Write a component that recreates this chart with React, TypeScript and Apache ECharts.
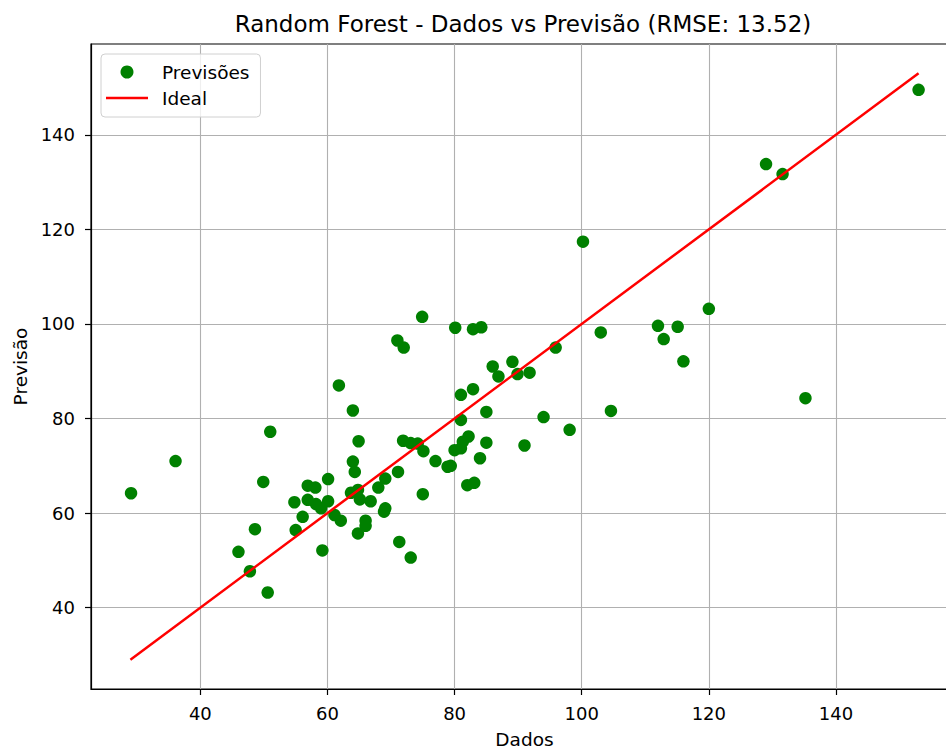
import React, { useEffect, useRef } from 'react';
import * as echarts from 'echarts';

const dados = [
  29.1, 36.1, 51.0, 49.9, 61.8, 60.1, 56.9, 58.1, 54.8, 56.9,
  58.2, 60.1, 59.0, 56.1, 55.0, 48.6, 46.0, 47.8, 50.6, 59.2,
  74.9, 80.1, 82.9, 84.2, 71.0, 72.0, 64.0, 86.0, 89.1, 86.9,
  89.9, 91.8, 81.0, 82.9, 85.0, 81.0, 91.0, 64.9, 71.9, 73.1,
  74.2, 75.1, 82.2, 81.3, 81.0, 80.0, 85.0, 84.0, 77.0, 78.9,
  79.4, 71.1, 64.0, 64.3, 69.1, 68.0, 82.0, 83.1, 75.0, 63.7,
  64.8, 65.1, 66.8, 61.1, 62.1, 69.1, 68.9, 66.0, 66.0, 64.8,
  71.3, 73.1, 100.2, 103.0, 112.0, 115.1, 112.9, 116.0, 95.9, 94.0,
  104.6, 98.1, 153.0, 129.0, 131.6, 120.0, 135.2
];
const previsao = [
  64.2, 71.0, 77.2, 66.6, 87.0, 67.2, 65.8, 65.4, 62.3, 62.8,
  61.9, 62.5, 61.0, 59.2, 56.4, 56.6, 51.8, 47.7, 43.2, 52.1,
  101.5, 99.2, 98.9, 99.3, 96.5, 95.0, 81.7, 91.0, 92.0, 88.9,
  89.4, 89.7, 85.0, 86.2, 81.4, 79.7, 74.3, 75.2, 75.3, 74.8,
  74.7, 73.1, 76.2, 75.1, 73.7, 73.3, 74.9, 71.6, 71.0, 69.8,
  70.0, 68.7, 70.9, 68.7, 67.3, 65.4, 65.9, 66.4, 64.0, 64.3,
  64.9, 62.9, 62.5, 59.6, 58.4, 61.0, 60.3, 58.4, 57.3, 55.7,
  53.9, 50.6, 117.4, 98.2, 99.6, 99.4, 96.8, 92.1, 95.0, 80.3,
  81.6, 77.6, 149.5, 133.8, 131.7, 103.2, 84.3
];
const idealRange = [29, 153];
const xTicks = [40, 60, 80, 100, 120, 140];
const yTicks = [40, 60, 80, 100, 120, 140];
const axisMin = 22.8;
const axisMax = 159.2;
const titleText = 'Random Forest - Dados vs Previsão (RMSE: 13.52)';
const xName = 'Dados';
const yName = 'Previsão';
const seriesNames = ['Previsões', 'Ideal'];

export default function App() {
  const ref = useRef<HTMLDivElement>(null);
  useEffect(() => {
    const chart = echarts.init(ref.current as HTMLDivElement, null, { renderer: 'svg' });
    const font = 'DejaVu Sans';
    const axisCommon = {
      type: 'value',
      min: axisMin,
      max: axisMax,
      splitNumber: 7,
      nameLocation: 'middle',
      nameTextStyle: { fontFamily: font, fontSize: 18.5, color: '#000' },
      axisLine: { show: true, onZero: false, lineStyle: { color: '#000', width: 1.2 } },
      axisTick: { show: true, length: 6, lineStyle: { color: '#000', width: 1.2 } },
      splitLine: { show: true, lineStyle: { color: '#b0b0b0', width: 1.1 } },
    };
    chart.setOption({
      animation: false,
      backgroundColor: '#fff',
      title: {
        text: titleText,
        left: 523,
        top: 12,
        textAlign: 'center',
        padding: 0,
        textStyle: { fontFamily: font, fontSize: 23, fontWeight: 'normal', color: '#000' },
      },
      legend: {
        orient: 'vertical',
        left: 101,
        top: 54,
        padding: [8, 11, 9, 5],
        itemWidth: 42,
        itemHeight: 13,
        itemGap: 6,
        backgroundColor: 'rgba(255,255,255,0.8)',
        borderColor: '#d0d0d0',
        borderWidth: 1,
        borderRadius: 4,
        textStyle: { fontFamily: font, fontSize: 18.5, color: '#000', lineHeight: 20, padding: [0, 0, 0, 9] },
        data: [
          { name: seriesNames[0], icon: 'circle' },
          {
            name: seriesNames[1],
            icon: 'path://M0,0 L42,0 L42,2.5 L0,2.5 Z',
            symbolKeepAspect: true,
            itemStyle: { color: '#ff0000' },
          },
        ],
      },
      grid: {
        left: 91,
        top: 44,
        width: 867,
        height: 645,
        show: true,
        borderColor: '#000',
        borderWidth: 1.2,
        containLabel: false,
        outerBoundsMode: 'none',
      },
      xAxis: {
        ...axisCommon,
        name: xName,
        nameGap: 41,
        axisTick: { ...axisCommon.axisTick, customValues: xTicks },
        axisLabel: { customValues: xTicks, margin: 15, fontFamily: font, fontSize: 18, color: '#000' },
      },
      yAxis: {
        ...axisCommon,
        name: yName,
        nameGap: 60,
        axisTick: { ...axisCommon.axisTick, customValues: yTicks },
        axisLabel: { customValues: yTicks, margin: 16, fontFamily: font, fontSize: 18, color: '#000' },
      },
      series: [
        {
          name: seriesNames[0],
          type: 'scatter',
          symbol: 'circle',
          symbolSize: 12.5,
          itemStyle: { color: '#008000', opacity: 1 },
          data: dados.map((x, i) => [x, previsao[i]]),
        },
        {
          name: seriesNames[1],
          type: 'line',
          symbol: 'none',
          lineStyle: { color: '#ff0000', width: 2.5 },
          itemStyle: { color: '#ff0000' },
          data: [
            [idealRange[0], idealRange[0]],
            [idealRange[1], idealRange[1]],
          ],
        },
      ],
    });
    return () => chart.dispose();
  }, []);
  return <div ref={ref} style={{ position: 'fixed', left: 0, top: 0, width: 946, height: 751 }} />;
}
